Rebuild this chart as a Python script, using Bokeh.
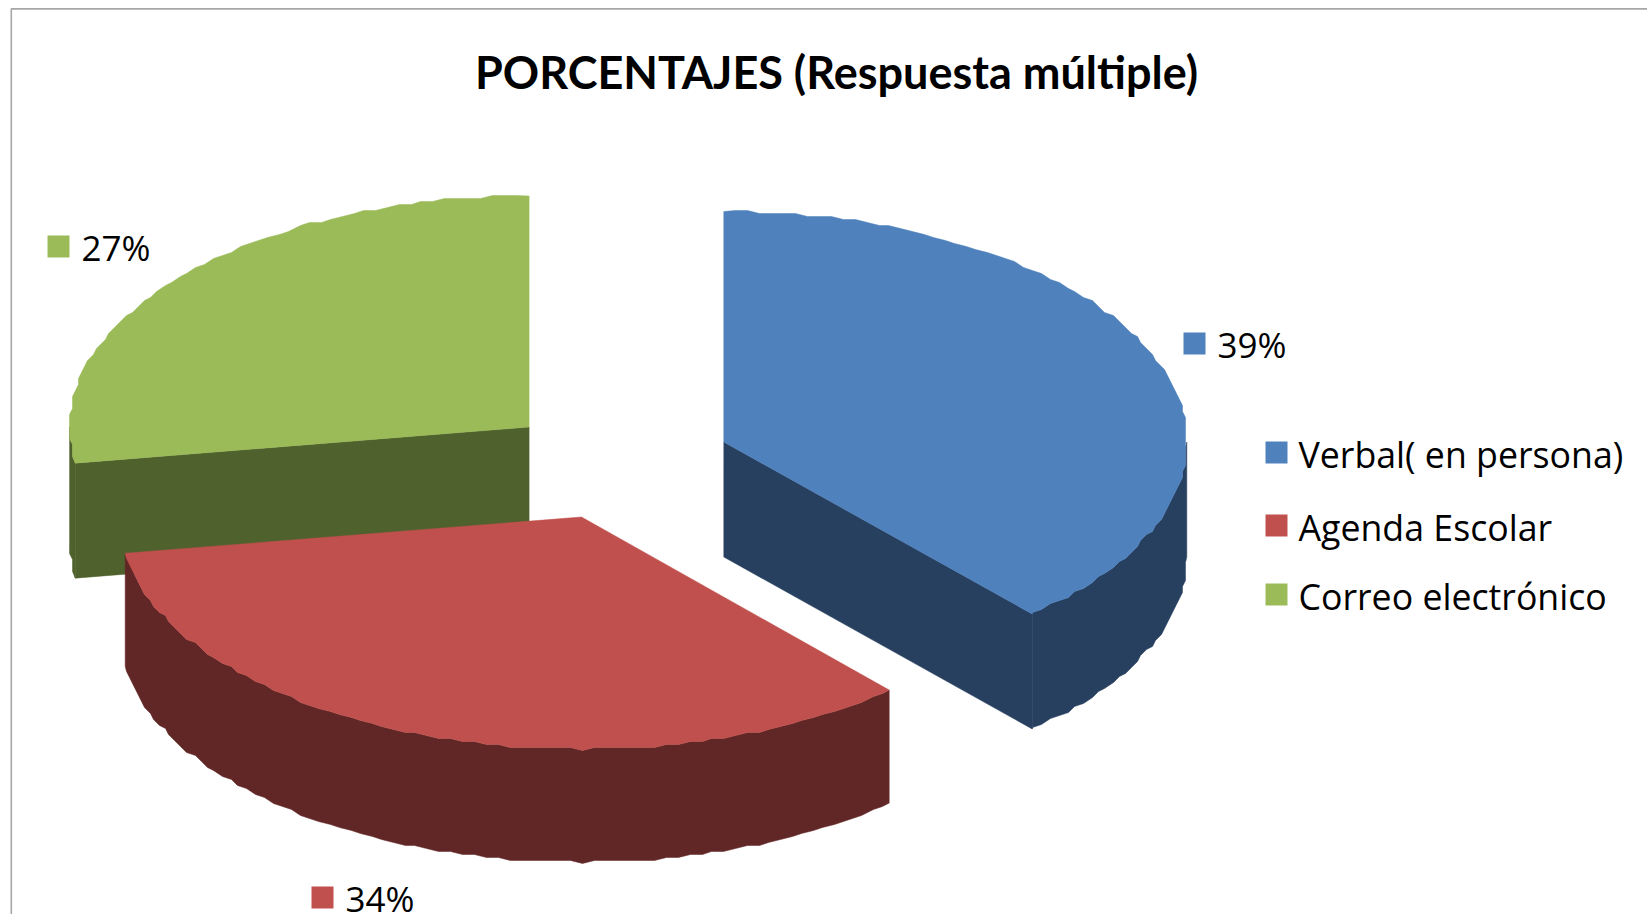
import numpy as np
from bokeh.plotting import figure
from bokeh.models import Range1d
from bokeh.core.properties import value
from bokeh.embed import file_html
from bokeh.resources import INLINE

title = "PORCENTAJES (Respuesta múltiple)"
categories = ["Verbal( en persona)", "Agenda Escolar", "Correo electrónico"]
values = [38.4, 34.1, 27.5]
percent_labels = ["39%", "34%", "27%"]
top_colors = ["#4F81BD", "#C0504D", "#9BBB59"]
wall_colors = ["#284060", "#612726", "#4F612D"]

# layout (reference pixels)
apex_x = [723.3, 581.0, 528.6]
apex_y = [441.5, 516.5, 426.5]
radius_x = [463.0, 462.0, 459.5]
radius_y = [230.5, 232.0, 231.0]
depth = [115.0, 113.0, 115.0]
label_square_x = [1183, 311, 47]
label_square_y = [332, 886, 235]
legend_square_y = [441, 514, 583]
legend_square_x = 1265
legend_text_x = 1298
square = 22
FONT = "Open Sans"

W, H = 1647, 914
p = figure(width=W, height=H, x_range=Range1d(0, W), y_range=Range1d(H, 0),
           output_backend="svg", toolbar_location=None, min_border=0,
           x_axis_location=None, y_axis_location=None, outline_line_color=None,
           background_fill_color="white", border_fill_color="white")
p.grid.visible = False


def arc(i, a0, a1, grid=3.0, step=1.5):
    inner = np.arange(np.ceil(a0 / step), np.floor(a1 / step) + 1) * step
    angles = np.r_[a0, inner[(inner > a0) & (inner < a1)], a1]
    t = np.radians(angles)
    x = apex_x[i] + radius_x[i] * np.sin(t)
    y = apex_y[i] - radius_y[i] * np.cos(t)
    xr, yr = np.round(x / grid) * grid, np.round(y / grid) * grid
    xr[0], yr[0], xr[-1], yr[-1] = x[0], y[0], x[-1], y[-1]
    return xr, yr


edges = np.concatenate([[0], np.cumsum(values)]) / sum(values) * 360.0

# frame
p.line([W, 10.8, 10.8], [8.4, 8.4, H], line_color="#A6A6A6", line_width=1.6)

for i in [2, 1, 0]:
    a0, a1 = edges[i], edges[i + 1]
    x, y = arc(i, a0, a1)
    wall_from, wall_to = max(a0, 90.0), min(a1, 270.0)
    wx, wy = arc(i, wall_from, wall_to)
    p.patch(np.r_[wx, wx[::-1]], np.r_[wy, wy[::-1] + depth[i]],
            fill_color=wall_colors[i], line_color=wall_colors[i], line_width=0.5)
    if i in (0, 2):
        # cut face turned towards the viewer
        ang = a1 if i == 0 else a0
        ex = apex_x[i] + radius_x[i] * np.sin(np.radians(ang))
        ey = apex_y[i] - radius_y[i] * np.cos(np.radians(ang))
        fx = [apex_x[i], ex, ex, apex_x[i]]
        fy = [apex_y[i], ey, ey + depth[i], apex_y[i] + depth[i]]
        p.patch(fx, fy, fill_color=wall_colors[i], line_color=wall_colors[i], line_width=0.5)
    p.patch(np.r_[apex_x[i], x], np.r_[apex_y[i], y],
            fill_color=top_colors[i], line_color=top_colors[i], line_width=0.5)

# data labels
for i in range(3):
    p.quad(left=label_square_x[i], right=label_square_x[i] + square,
           top=label_square_y[i], bottom=label_square_y[i] + square,
           fill_color=top_colors[i], line_color=None)
    p.text(x=[label_square_x[i] + 34], y=[label_square_y[i] + 12], text=[percent_labels[i]],
           text_font=value(FONT), text_font_size="35px", text_color="#000000",
           text_baseline="middle", text_align="left")

# legend
for i in range(3):
    p.quad(left=legend_square_x, right=legend_square_x + square,
           top=legend_square_y[i], bottom=legend_square_y[i] + square,
           fill_color=top_colors[i], line_color=None)
    p.text(x=[legend_text_x], y=[legend_square_y[i] + 12], text=[categories[i]],
           text_font=value(FONT), text_font_size="35.7px", text_color="#000000",
           text_baseline="middle", text_align="left")

# title
p.text(x=[836], y=[71], text=[title], text_font=value("Lato"), text_font_style="bold",
       text_font_size="45px", text_color="#000000", text_baseline="middle", text_align="center")

open("out.html", "w").write(file_html(p, INLINE))
